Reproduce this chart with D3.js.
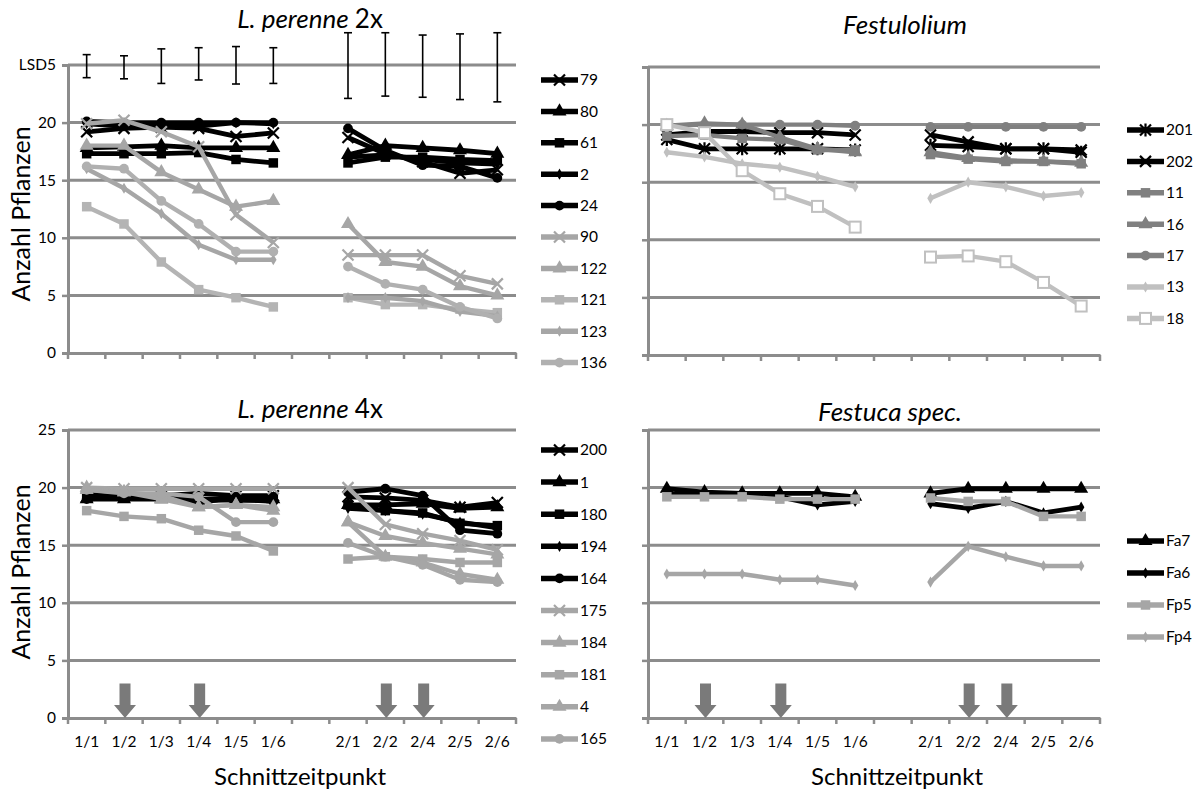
<!DOCTYPE html>
<html><head><meta charset="utf-8">
<script src="https://cdn.jsdelivr.net/npm/d3@7"></script>
<style>body{margin:0;background:#fff} svg text{font-family: Lato, 'Open Sans', sans-serif; fill:#000}</style>
</head><body><svg id="c" width="1195" height="789"></svg>
<script>
// ---------- DATA ----------
const categories = ["1/1","1/2","1/3","1/4","1/5","1/6","","2/1","2/2","2/4","2/5","2/6"];
const dataCats   = ["1/1","1/2","1/3","1/4","1/5","1/6","2/1","2/2","2/4","2/5","2/6"];
const yTickValues = [0,5,10,15,20,25];
const yTickLabels2x = ["0","5","10","15","20","LSD5"];
const yTickLabels4x = ["0","5","10","15","20","25"];

const lsdLow  = [23.9,23.8,23.4,23.7,23.35,23.4, 22.1,22.3,22.2,22.0,21.8];
const lsdHigh = [25.9,25.8,26.4,26.5,26.6,26.5, 27.8,27.8,27.6,27.7,27.8];

const lp2Names = ["79","80","61","2","24","90","122","121","123","136"];
const lp2Values = [
  [19.2,19.5,19.6,19.5,18.8,19.1, 18.7,17.3,16.6,15.6,15.9],
  [17.8,17.9,18.0,17.8,17.8,17.8, 17.2,18.0,17.8,17.6,17.3],
  [17.3,17.3,17.3,17.4,16.8,16.5, 16.5,17.0,17.0,16.8,16.7],
  [19.9,19.7,19.7,19.7,20.0,19.9, 17.0,17.2,16.8,16.5,16.4],
  [20.1,20.0,20.0,20.0,20.0,20.0, 19.5,17.6,16.3,16.2,15.2],
  [19.9,20.2,19.2,17.9,12.0,9.6,  8.5,8.5,8.5,6.7,6.0],
  [18.0,18.0,15.7,14.2,12.7,13.2, 11.2,7.9,7.5,5.8,5.0],
  [12.7,11.2,7.9,5.5,4.8,4.0,     4.8,4.2,4.2,3.8,3.5],
  [16.0,14.3,12.1,9.4,8.1,8.1,    4.8,4.8,4.5,3.6,3.2],
  [16.2,16.0,13.2,11.2,8.8,8.8,   7.5,6.0,5.5,4.0,3.0]
];

const fslNames = ["201","202","11","16","17","13","18"];
const fslValues = [
  [18.7,17.9,17.9,17.9,17.9,17.8, 18.2,18.1,17.9,17.9,17.6],
  [19.1,19.4,19.4,19.3,19.3,19.1, 19.1,18.5,17.9,17.9,17.8],
  [19.0,19.1,18.8,18.7,17.8,17.8, 17.4,17.0,16.8,16.8,16.6],
  [19.9,20.1,20.0,18.9,17.9,17.6, 17.6,17.1,16.9,16.8,16.7],
  [19.9,20.0,20.0,20.0,20.0,19.9, 19.8,19.8,19.8,19.8,19.8],
  [17.6,17.2,16.6,16.3,15.5,14.6, 13.6,15.0,14.6,13.8,14.1],
  [20.0,19.3,16.0,14.0,12.9,11.1, 8.5,8.6,8.1,6.3,4.25]
];

const lp4Names = ["200","1","180","194","164","175","184","181","4","165"];
const lp4Values = [
  [19.2,19.2,19.3,19.5,19.3,19.3, 19.2,19.1,18.9,18.3,18.7],
  [19.0,19.0,19.0,18.8,19.0,19.0, 18.5,18.5,18.6,18.2,18.3],
  [19.2,19.2,19.3,18.7,19.2,19.2, 18.5,18.0,17.8,16.9,16.7],
  [19.5,19.4,19.3,19.0,18.9,18.9, 18.2,18.0,17.7,17.0,16.5],
  [19.0,19.2,19.3,19.0,19.0,18.8, 19.6,19.9,19.3,16.3,16.0],
  [20.0,19.9,19.9,19.9,19.9,19.9, 20.0,16.8,16.0,15.4,14.6],
  [20.0,19.6,19.3,18.3,18.5,18.3, 17.0,15.8,15.2,14.7,14.2],
  [18.0,17.5,17.3,16.3,15.8,14.5, 13.8,14.0,13.8,13.5,13.5],
  [19.8,19.6,19.0,18.3,18.5,18.0, 17.0,14.0,13.5,12.5,12.0],
  [19.8,19.5,19.5,19.2,17.0,17.0, 15.2,14.0,13.3,12.0,11.8]
];

const fstNames = ["Fa7","Fa6","Fp5","Fp4"];
const fstValues = [
  [19.9,19.6,19.5,19.5,19.5,19.2, 19.5,19.9,19.9,19.9,19.9],
  [19.4,19.4,19.4,19.2,18.5,18.8, 18.6,18.2,18.8,17.8,18.3],
  [19.2,19.2,19.2,19.0,19.0,19.0, 19.1,18.8,18.8,17.5,17.5],
  [12.5,12.5,12.5,12.0,12.0,11.5, 11.8,14.9,14.0,13.2,13.2]
];

const arrowCats = ["1/2","1/4","2/2","2/4"];
const arrowTop = 3;

// ---------- STYLES ----------
const BLK = "#000", G1 = "#a6a6a6", GD = "#808080", GL = "#c0c0c0", GRID = "#8c8c8c";
const lp2Style = [["x",BLK],["tri",BLK],["sq",BLK],["dia",BLK],["circ",BLK],["x",G1],["tri",G1],["sq","#b4b4b4"],["dia",G1],["circ","#b0b0b0"]];
const fslStyle = [["star",BLK],["x",BLK],["sq",GD],["tri",GD],["circ",GD],["dia",GL],["osq",GL]];
const lp4Style = [["x",BLK],["tri",BLK],["sq",BLK],["dia",BLK],["circ",BLK],["x",G1],["tri",G1],["sq",G1],["tri",G1],["circ",G1]];
const fstStyle = [["tri",BLK],["dia",BLK],["sq",G1],["dia",G1]];

const svg = d3.select("#c");
const FONT = "Lato, 'Open Sans', sans-serif";

function drawMarker(g, type, x, y, color) {
  if (type === "x") {
    const s = 5.5;
    g.append("path").attr("d", `M${x-s},${y-s}L${x+s},${y+s}M${x-s},${y+s}L${x+s},${y-s}`)
      .attr("stroke", color).attr("stroke-width", 2.2).attr("fill","none");
  } else if (type === "star") {
    const s = 5.5;
    g.append("path").attr("d", `M${x-s},${y-s}L${x+s},${y+s}M${x-s},${y+s}L${x+s},${y-s}M${x},${y-s-1}L${x},${y+s+1}`)
      .attr("stroke", color).attr("stroke-width", 2.2).attr("fill","none");
  } else if (type === "osq") {
    g.append("rect").attr("x", x-5.5).attr("y", y-5.5).attr("width",11).attr("height",11)
      .attr("fill","#fff").attr("stroke", color).attr("stroke-width",2);
  } else {
    const map = {tri: [d3.symbolTriangle, 85], sq: [d3.symbolSquare, 90], circ: [d3.symbolCircle, 75], dia: [d3.symbolDiamond, 36]};
    const [sym, size] = map[type];
    g.append("path").attr("d", d3.symbol(sym, size)()).attr("transform", `translate(${x},${y})`)
      .attr("fill", color);
  }
}

function panel(opt) {
  const x = d3.scaleBand().domain(categories).range([opt.x0, opt.x1]);
  const y = d3.scaleLinear().domain([0,25]).range([opt.yb, opt.yt]);
  const g = svg.append("g");
  g.selectAll(".grid").data(yTickValues.filter(v => v > 0)).join("line")
    .attr("x1", opt.x0).attr("x2", opt.x1).attr("y1", d => y(d)).attr("y2", d => y(d))
    .attr("stroke", GRID).attr("stroke-width", 3);
  const ya = d3.axisLeft(y).tickValues(yTickValues).tickSize(6)
    .tickFormat((d,i) => opt.yLabels ? opt.yLabels[i] : "");
  const yg = g.append("g").attr("transform", `translate(${opt.x0},0)`).call(ya);
  yg.select(".domain").attr("stroke", GRID).attr("stroke-width", 3);
  yg.selectAll(".tick line").attr("stroke", GRID).attr("stroke-width", 2.5);
  yg.selectAll(".tick text").attr("font-size", 15.5).attr("fill","#000").attr("x", -12)
    .style("font-family", FONT);
  const xa = d3.axisBottom(x).tickSize(0).tickFormat(d => opt.xLabels ? d : "");
  const xg = g.append("g").attr("transform", `translate(0,${opt.yb})`).call(xa);
  xg.select(".domain").attr("stroke", GRID).attr("stroke-width", 3);
  xg.selectAll(".tick text").attr("font-size", 15.5).attr("fill","#000").attr("dy", 0).attr("y", 29)
    .style("font-family", FONT);
  const bounds = categories.map(c => x(c)).concat([opt.x1]);
  g.selectAll(".bt").data(bounds).join("line")
    .attr("x1", d => d).attr("x2", d => d).attr("y1", opt.yb).attr("y2", opt.yb + 6)
    .attr("stroke", GRID).attr("stroke-width", 2.5);
  const cx = c => x(c) + x.bandwidth()/2;

  if (opt.lsd) {
    const eb = g.append("g");
    dataCats.forEach((c,i) => {
      const xx = cx(c);
      eb.append("line").attr("x1", xx).attr("x2", xx).attr("y1", y(lsdLow[i])).attr("y2", y(lsdHigh[i]))
        .attr("stroke", "#000").attr("stroke-width", 1.6);
      [lsdLow[i], lsdHigh[i]].forEach(v => eb.append("line").attr("x1", xx-4).attr("x2", xx+4)
        .attr("y1", y(v)).attr("y2", y(v)).attr("stroke","#000").attr("stroke-width",1.6));
    });
  }
  if (opt.arrows) {
    arrowCats.forEach(c => {
      const xx = cx(c) + 1, yt = y(arrowTop), yb = y(0), hh = 13;
      g.append("path").attr("d",
        `M${xx-5.5},${yt}L${xx+5.5},${yt}L${xx+5.5},${yb-hh}L${xx+11},${yb-hh}L${xx},${yb}L${xx-11},${yb-hh}L${xx-5.5},${yb-hh}Z`)
        .attr("fill", "#7a7a7a");
    });
  }
  const line = d3.line().defined(d => d.v != null).x(d => cx(d.c)).y(d => y(d.v));
  opt.values.forEach((vals, si) => {
    const [mk, col] = opt.style[si];
    const pts = dataCats.map((c,i) => ({c, v: vals[i]}));
    const sg = g.append("g");
    [pts.slice(0,6), pts.slice(6)].forEach(seg => {
      sg.append("path").attr("d", line(seg)).attr("fill","none").attr("stroke", col)
        .attr("stroke-width", col === BLK ? 4.8 : 4.4).attr("stroke-linejoin","round");
    });
    pts.forEach(p => drawMarker(sg, mk, cx(p.c), y(p.v), col));
  });
  const lg = g.append("g");
  opt.names.forEach((n, i) => {
    const ly = opt.legY + i * opt.legDy;
    const [mk, col] = opt.style[i];
    lg.append("line").attr("x1", opt.legX).attr("x2", opt.legX + 37).attr("y1", ly).attr("y2", ly)
      .attr("stroke", col).attr("stroke-width", 5.5);
    drawMarker(lg, mk, opt.legX + 18.5, ly, col);
    lg.append("text").attr("x", opt.legX + 39).attr("y", ly).attr("dy", "0.35em")
      .attr("font-size", 15.5).text(n);
  });
  const t = g.append("text").attr("x", opt.titleX).attr("y", opt.titleY).attr("text-anchor","middle")
    .attr("font-size", 26);
  opt.title.forEach(([s, it]) => t.append("tspan").attr("font-style", it ? "italic" : "normal").text(s));
  if (opt.yTitle) {
    g.append("text").attr("transform", `translate(${opt.yTitleX},${opt.yTitleY}) rotate(-90)`)
      .attr("text-anchor","middle").attr("font-size", 25).text("Anzahl Pflanzen");
  }
  if (opt.xTitle) {
    g.append("text").attr("x", opt.xTitleX).attr("y", 785).attr("text-anchor","middle")
      .attr("font-size", 24).text("Schnittzeitpunkt");
  }
}

panel({x0:68, x1:516, yb:353, yt:65, yLabels: yTickLabels2x, xLabels:false, lsd:true, arrows:false,
  names: lp2Names, values: lp2Values, style: lp2Style, legX: 541, legY: 80, legDy: 31.4,
  title: [["L. perenne ",true],["2x",false]], titleX: 310, titleY: 28, yTitle:true, yTitleX: 30, yTitleY: 214});
panel({x0:648, x1:1100, yb:355, yt:67, yLabels: null, xLabels:false, lsd:false, arrows:false,
  names: fslNames, values: fslValues, style: fslStyle, legX: 1127, legY: 130, legDy: 31.4,
  title: [["Festulolium",true]], titleX: 905, titleY: 34});
panel({x0:68, x1:516, yb:718, yt:430, yLabels: yTickLabels4x, xLabels:true, lsd:false, arrows:true,
  names: lp4Names, values: lp4Values, style: lp4Style, legX: 541, legY: 450, legDy: 32.1,
  title: [["L. perenne ",true],["4x",false]], titleX: 310, titleY: 418, yTitle:true, yTitleX: 30, yTitleY: 572,
  xTitle:true, xTitleX: 300});
panel({x0:648, x1:1100, yb:718, yt:430, yLabels: null, xLabels:true, lsd:false, arrows:true,
  names: fstNames, values: fstValues, style: fstStyle, legX: 1127, legY: 541, legDy: 32,
  title: [["Festuca spec.",true]], titleX: 890, titleY: 421, xTitle:true, xTitleX: 897});
</script></body></html>
